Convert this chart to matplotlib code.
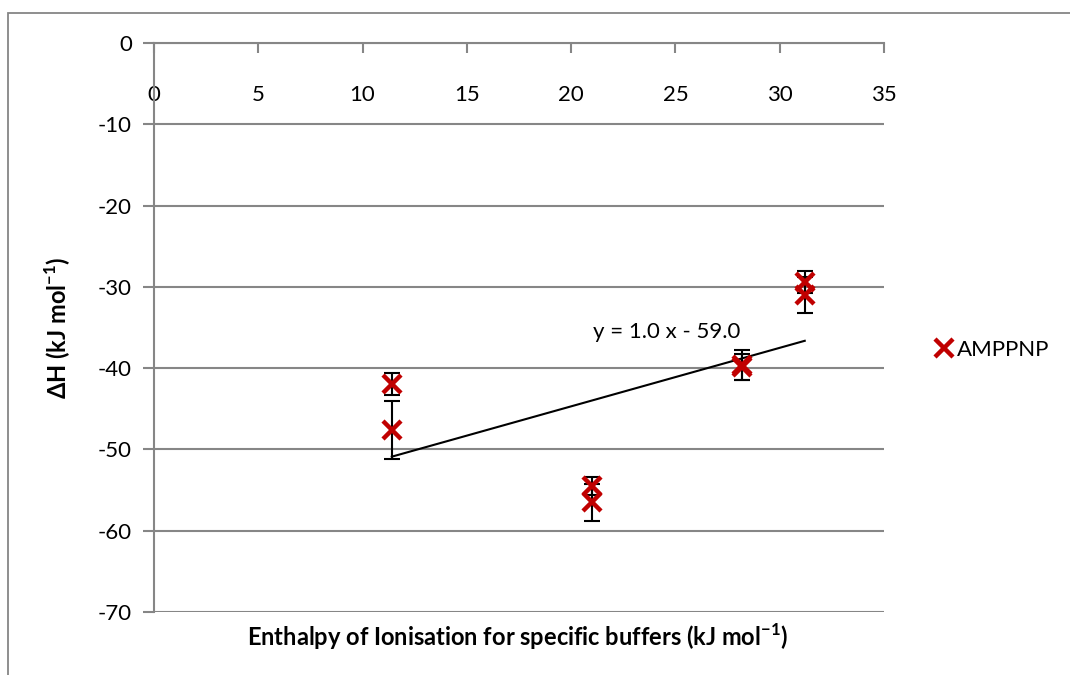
import numpy as np
import matplotlib
matplotlib.use('Agg')
import matplotlib.pyplot as plt
from matplotlib.patches import Rectangle

plt.rcParams['font.family'] = ['Lato', 'DejaVu Sans']
plt.rcParams['axes.unicode_minus'] = False
plt.rcParams['mathtext.fontset'] = 'custom'
plt.rcParams['mathtext.rm'] = 'Lato'
plt.rcParams['mathtext.bf'] = 'Lato:bold'

# buffer ionisation enthalpy vs measured dH (two runs per buffer)
x_vals = [11.4, 11.4, 21.0, 21.0, 28.2, 28.2, 31.2, 31.2]
y_vals = [-41.9, -47.6, -54.5, -56.5, -39.6, -39.9, -29.4, -31.0]
y_err = [1.35, 3.6, 1.1, 2.3, 1.8, 1.6, 1.4, 2.2]

# trend line as drawn
trend_slope = 0.72
trend_icept = -59.1
trend_label = 'y = 1.0 x - 59.0'

x_ticks = [0, 5, 10, 15, 20, 25, 30, 35]
y_ticks = [0, -10, -20, -30, -40, -50, -60, -70]

grey = '#868686'
red = '#C00000'
fs = 16

fig = plt.figure(figsize=(10.7, 6.75), dpi=100)
ax = fig.add_axes([154/1070, 1-612/675, 730/1070, 569/675])

# outer chart frame
fig.patches.append(Rectangle((8/1070, -0.1), 1.2, 1-13/675+0.1, transform=fig.transFigure,
                             fill=False, edgecolor=grey, lw=1.3))

ax.set_xlim(0, 35)
ax.set_ylim(-70, 0)
for yv in y_ticks:
    ax.axhline(yv, color=grey, lw=1.5, zorder=1)

for s in ['right', 'bottom']:
    ax.spines[s].set_visible(False)
ax.spines['top'].set_color(grey)
ax.spines['left'].set_color(grey)
ax.spines['top'].set_linewidth(1.5)
ax.spines['left'].set_linewidth(1.5)

ax.set_xticks(x_ticks)
ax.set_yticks(y_ticks)
ax.xaxis.tick_top()
ax.tick_params(axis='x', direction='in', length=7, width=1.5, color=grey, pad=-30,
               labelsize=fs)
ax.tick_params(axis='y', direction='out', length=8, width=1.5, color=grey, pad=8,
               labelsize=fs)
for lab in ax.get_xticklabels():
    lab.set_verticalalignment('top')

xs = np.array(x_vals)
tx = np.array([xs.min(), xs.max()])
ax.plot(tx, trend_slope*tx + trend_icept, color='black', lw=1.5, zorder=3)
ax.text(24.6, -35.5, trend_label, fontsize=fs, ha='center', va='center')

ax.errorbar(x_vals, y_vals, yerr=y_err, fmt='none', ecolor='black', elinewidth=1.5,
            capsize=6, capthick=1.5, zorder=4)
ax.plot(x_vals, y_vals, linestyle='none', marker='x', ms=13, mew=3.2, color=red,
        zorder=5, label='AMPPNP')

fig.legend(loc='center left', bbox_to_anchor=(935/1070, 1-350/675), frameon=False,
           fontsize=fs, handlelength=0.8, handletextpad=0.2, borderpad=0,
           borderaxespad=0)

fig.text(58/1070, 1-(43+612)/2/675, 'ΔH (kJ mol$^{\\mathbf{-1}}$)', rotation=90,
         ha='center', va='center', fontsize=17, fontweight='bold')
fig.text(518/1070, 1-637/675, 'Enthalpy of Ionisation for specific buffers (kJ mol$^{\\mathbf{-1}}$)',
         ha='center', va='center', fontsize=17, fontweight='bold')

fig.savefig('out.png', dpi=100)
